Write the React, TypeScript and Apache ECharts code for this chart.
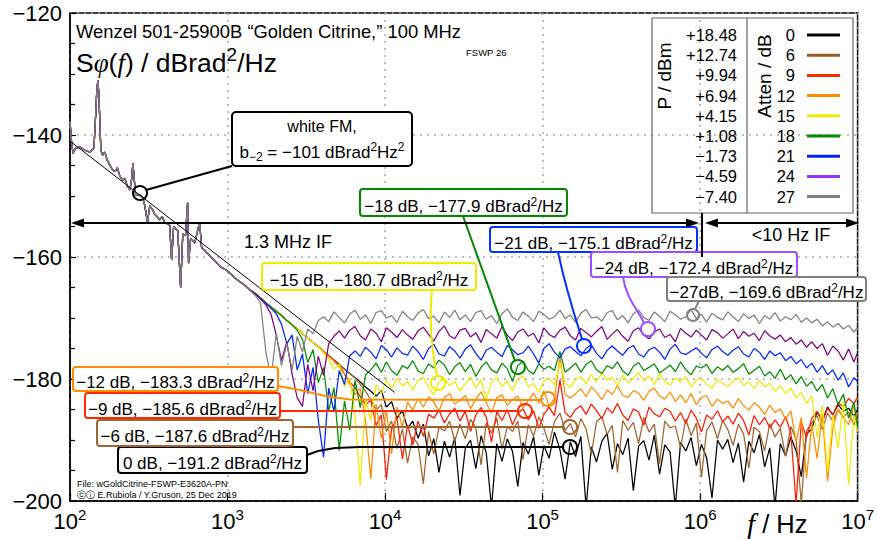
import { useEffect, useRef } from 'react';
import * as echarts from 'echarts';

const FONT = '"Liberation Sans", Arial, Helvetica, sans-serif';
const SERIF = '"Liberation Serif", "Times New Roman", serif';

// ---- common low-frequency part (all curves overlap) ----
const lowF = [100, 102, 104.5, 109, 116, 124.5, 134, 142, 146, 148, 150.4, 152.5, 155, 157, 161, 166.5, 172, 179, 186, 193, 200, 207, 215, 223, 231, 240, 245, 251, 256, 261, 277, 290, 298, 305, 310, 321, 335, 345, 358, 371, 385, 399, 429, 442, 455, 483, 504, 520, 541, 558, 566, 583, 619, 665, 685, 716, 770, 828, 891, 1000, 1110, 1190, 1280, 1370];
const lowV = [-137.7, -140.8, -143.0, -142.1, -142.0, -142.5, -142.8, -142.1, -135.9, -132.6, -131.0, -133.4, -138.4, -142.5, -143.3, -142.8, -144.1, -144.9, -145.7, -146.0, -145.4, -146.7, -147.4, -147.1, -148.4, -149.0, -147.7, -144.6, -147.4, -149.8, -149.8, -150.3, -151.5, -153.1, -154.4, -151.6, -152.3, -153.0, -153.4, -153.9, -153.4, -154.3, -154.8, -160.5, -155.0, -155.7, -165.0, -156.2, -156.5, -151.1, -161.0, -157.0, -157.7, -154.3, -158.5, -158.9, -159.8, -160.6, -161.5, -162.3, -163.4, -164.0, -164.6, -165.3];

// ---- frequency grid for the individual tails ----
const tailF = [1500, 1620, 1750, 1890, 2040, 2200, 2380, 2570, 2770, 2990, 3230, 3490, 3770, 4070, 4390, 4740, 5120, 5530, 5970, 6450, 6960, 7520, 8120, 8770, 9470, 10200, 11000, 11900, 12900, 13900,
  15000, 16200, 17500, 18900, 20400, 22000, 23800, 25700, 27700, 29900, 32300, 34900, 37700, 40700, 43900, 47400, 51200, 55300, 59700, 64500, 69600, 75200, 81200, 87700, 94700, 102000, 110000, 119000, 129000, 139000,
  150000, 162000, 175000, 189000, 204000, 220000, 238000, 257000, 277000, 299000, 323000, 349000, 377000, 407000, 439000, 474000, 512000, 553000, 597000, 645000, 696000, 752000, 812000, 877000, 947000, 1020000, 1100000, 1190000, 1290000, 1390000,
  1500000, 1620000, 1750000, 1890000, 2040000, 2200000, 2380000, 2570000, 2770000, 2990000, 3230000, 3490000, 3770000, 4070000, 4390000, 4740000, 5120000, 5530000, 5970000, 6450000, 6960000, 7520000, 8120000, 8770000, 9470000, 10000000];

const atten0 = [-166.0, -166.7, -167.5, -168.2, -168.9, -169.6, -170.4, -171.1, -171.8, -172.5, -173.3, -174.0, -174.7, -175.5, -176.2, -176.9, -177.6, -178.4, -179.1, -179.8, -180.5,
  -181.3, -182.0, -182.8, -181.9, -184.6, -183.7, -186.4, -185.2, -188.1, -186.9, -189.7, -187.4, -192.6, -189.8, -195.3,
  -190.2, -192.8, -189.6, -199.1, -191.4, -190.0, -194.7, -189.3, -192.1, -201.0, -190.6, -193.5, -189.8, -191.9, -197.6, -190.4, -192.3, -189.5, -195.8, -190.9, -193.0, -188.7, -191.6, -196.4,
  -190.3, -192.7, -189.4, -201.0, -191.1, -193.6, -190.2, -188.9, -194.8, -190.6, -192.4, -189.7, -198.3, -191.0, -190.1, -193.3, -189.2, -195.6, -190.8, -192.0, -201.0, -190.4, -191.8, -189.6, -194.2, -190.7, -192.9, -199.5, -190.0, -191.5,
  -189.9, -193.7, -190.5, -196.9, -190.2, -192.1, -189.1, -194.4, -191.3, -201.0, -190.6, -192.6, -189.5, -191.8, -196.0, -189.0, -188.2, -185.4, -186.8, -184.6, -185.9, -184.2, -185.3, -184.8, -186.1, -185.0];
const atten6 = [-166.0, -166.7, -167.5, -168.2, -168.9, -169.6, -170.4, -171.1, -171.8, -172.5, -173.3, -174.0, -174.7, -175.5, -176.2, -176.9, -177.6, -178.4, -179.1, -179.8,
  -180.9, -182.0, -183.4, -185.1, -184.2, -188.6, -186.9, -191.4, -188.2, -193.8, -189.5, -190.7, -197.2, -188.6, -192.3, -187.9,
  -188.5, -186.9, -190.2, -187.4, -189.8, -186.6, -188.0, -194.1, -187.2, -188.9, -186.4, -191.5, -187.8, -188.6, -186.9, -193.2, -187.5, -189.4, -186.2, -188.1, -190.7, -187.0, -185.6, -188.4,
  -187.3, -189.5, -186.5, -188.2, -192.4, -187.0, -186.2, -189.1, -187.6, -195.3, -186.8, -188.4, -187.1, -190.6, -186.3, -188.7, -187.4, -193.9, -186.9, -188.0, -187.7, -191.2, -186.6, -189.3, -187.2, -196.1, -188.5, -187.0, -189.8, -186.8,
  -188.3, -190.9, -187.4, -189.0, -194.6, -187.9, -188.6, -191.8, -187.3, -189.5, -188.1, -192.7, -187.8, -189.9, -200.4, -188.5, -187.2, -186.0, -188.3, -185.6, -186.9, -185.1, -186.3, -185.4, -187.6, -185.8];
const atten9 = [-166.0, -166.7, -167.5, -168.2, -168.9, -169.6, -170.4, -171.1, -171.8, -172.5, -173.3, -174.0, -174.7, -175.5, -176.2, -177.0, -177.8, -179.2, -180.5, -181.4, -182.9, -184.2, -183.5, -187.6, -185.9, -196.5, -188.2, -186.4, -193.1, -187.5, -190.8, -186.9, -189.4, -185.8,
  -186.4, -185.1, -187.2, -185.7, -184.8, -186.9, -185.3, -188.6, -185.9, -184.7, -186.2, -190.3, -185.4, -186.8, -185.0, -187.5, -185.6, -184.9, -186.7, -185.2, -188.1, -185.8, -184.6, -186.0, -180.2, -185.5,
  -186.3, -185.0, -184.4, -185.8, -184.1, -185.2, -186.5, -184.7, -185.6, -184.0, -185.9, -186.8, -184.9, -185.4, -187.6, -184.6, -185.7, -186.2, -184.8, -185.3, -186.9, -185.5, -187.3, -185.1, -186.4, -188.7, -185.9, -186.6, -185.2, -187.0,
  -186.1, -187.4, -185.6, -186.8, -189.2, -186.0, -187.5, -186.3, -188.0, -186.7, -187.9, -186.2, -188.8, -200.5, -187.1, -189.6, -186.4, -185.3, -187.0, -184.8, -185.9, -183.9, -184.6, -183.2, -184.0, -183.0];
const atten12 = [-166.0, -166.7, -167.5, -168.2, -168.9, -169.6, -170.4, -171.1, -171.8, -172.5, -173.3, -174.0, -174.7, -175.5, -176.3, -177.1, -178.0, -179.2, -180.8, -182.6, -181.5, -186.9, -196.4, -184.1, -189.7, -185.2, -192.3, -184.6, -187.9, -183.8, -185.1,
  -183.2, -184.6, -182.9, -183.8, -185.3, -183.0, -182.4, -184.1, -183.5, -182.7, -184.9, -183.3, -182.1, -183.9, -185.6, -183.1, -182.6, -184.3, -183.4, -182.8, -184.7, -183.6, -182.3, -183.9, -182.0, -184.4, -183.2, -176.3, -182.5,
  -183.1, -182.4, -181.6, -182.9, -181.3, -182.2, -183.4, -181.8, -182.5, -181.1, -182.7, -183.0, -181.9, -182.3, -183.5, -182.0, -181.5, -182.8, -183.3, -182.1, -183.7, -182.6, -183.9, -182.4, -184.2, -183.0, -182.7, -184.5, -183.3, -184.0,
  -183.6, -184.8, -183.2, -184.4, -185.1, -183.9, -184.6, -185.8, -184.3, -185.5, -184.9, -186.6, -185.2, -190.4, -186.3, -196.2, -187.4, -193.0, -185.8, -196.8, -188.1, -184.9, -186.3, -187.5, -184.4, -186.9];
const atten15 = [-166.0, -166.7, -167.5, -168.2, -168.9, -169.6, -170.4, -171.1, -171.8, -172.5, -173.3, -174.0, -174.8, -175.7, -176.8, -178.4, -177.6, -181.3, -179.8, -185.9, -197.5, -183.2, -186.8, -180.9, -182.4, -180.1,
  -181.6, -179.9, -181.2, -180.4,
  -181.8, -180.2, -179.7, -181.4, -182.6, -180.5, -179.9, -181.1, -180.3, -182.0, -180.8, -179.6, -181.5, -180.1, -183.4, -180.6, -179.8, -181.2, -180.4, -181.9, -180.0, -179.5, -181.3, -180.7, -182.2, -180.3, -179.9, -181.0, -177.4, -180.6,
  -181.4, -180.1, -179.6, -180.8, -179.3, -180.5, -179.0, -180.2, -179.7, -181.1, -179.4, -180.6, -179.9, -178.9, -180.3, -179.5, -180.9, -179.2, -180.4, -181.0, -179.8, -180.5, -179.6, -181.3, -180.2, -179.9, -180.8, -181.5, -180.1, -180.7,
  -181.2, -180.4, -179.8, -181.0, -180.5, -181.6, -180.2, -181.3, -180.7, -182.0, -181.1, -182.4, -181.5, -183.1, -182.2, -184.0, -182.8, -189.5, -184.3, -195.2, -186.0, -191.4, -183.7, -197.3, -185.9, -188.6];
const atten18 = [-166.0, -166.7, -167.5, -168.2, -168.9, -169.6, -170.4, -171.1, -172.0, -173.5, -177.3, -175.2, -180.6, -178.1, -185.2, -181.4, -191.7, -183.6, -188.4, -180.2, -184.7, -179.3, -178.5,
  -177.4, -178.9, -177.2, -178.6, -179.4, -177.8, -178.3,
  -177.0, -178.7, -179.1, -177.5, -178.2, -176.9, -177.7, -179.3, -178.0, -177.3, -178.8, -177.6, -179.6, -178.1, -177.2, -178.5, -179.0, -177.4, -178.3, -180.4, -177.8, -177.1, -178.6, -179.2, -177.5, -178.4, -177.9, -178.6, -175.5, -178.9,
  -178.2, -177.4, -178.9, -177.6, -177.0, -178.5, -179.1, -177.8, -178.3, -177.2, -178.7, -179.4, -177.9, -177.3, -178.6, -178.1, -177.5, -179.0, -178.4, -177.7, -178.8, -177.2, -178.5, -179.3, -177.9, -178.2, -177.6, -179.1, -178.0, -178.6,
  -177.8, -178.9, -178.3, -177.5, -179.2, -178.6, -177.9, -179.5, -178.8, -179.9, -178.4, -180.1, -179.3, -180.8, -179.6, -181.2, -180.4, -182.0, -180.9, -183.1, -181.6, -184.2, -182.5, -186.4, -183.8, -187.9];
const atten21 = [-166.0, -166.8, -167.6, -168.4, -169.3, -171.0, -174.2, -172.8, -178.5, -175.9, -182.4, -178.1, -186.7, -192.8, -181.5, -185.3, -178.6, -180.9, -176.2, -175.4,
  -176.3, -174.8, -175.6, -176.7, -174.5, -175.2, -176.4, -174.9, -175.8, -176.1,
  -174.6, -175.5, -176.8, -175.0, -174.3, -175.9, -176.2, -174.7, -175.4, -176.6, -175.1, -174.4, -175.8, -176.9, -175.3, -174.8, -175.6, -176.3, -174.5, -175.2, -176.0, -175.7, -174.6, -175.9, -177.4, -175.0, -174.2, -175.6, -176.5, -175.1,
  -174.7, -175.5, -176.2, -175.0, -174.4, -175.8, -176.7, -175.3, -174.6, -175.4, -176.1, -175.0, -174.5, -175.9, -176.4, -175.2, -174.8, -175.6, -176.8, -175.1, -174.3, -175.7, -176.0, -175.4, -174.9, -175.8, -176.5, -175.2, -174.6, -175.5,
  -176.1, -175.3, -174.7, -175.9, -176.4, -175.0, -175.6, -176.8, -175.4, -176.2, -175.7, -177.0, -176.3, -177.5, -176.8, -178.2, -177.4, -178.9, -177.8, -179.3, -178.5, -180.2, -179.0, -181.3, -179.8, -180.4];
const atten24 = [-166.1, -166.9, -167.8, -169.4, -172.8, -177.0, -173.9, -179.2, -183.1, -184.5, -177.6, -181.9, -176.3, -179.4, -174.2, -173.0, -172.1,
  -173.3, -172.0, -171.4, -172.9, -173.6, -171.8, -172.5, -173.9, -171.6, -172.3, -173.2, -171.9, -172.8,
  -173.5, -172.1, -171.5, -172.7, -173.8, -172.2, -171.3, -172.9, -173.4, -172.0, -171.7, -173.1, -172.4, -174.0, -171.9, -172.6, -173.3, -171.4, -172.8, -173.7, -172.3, -171.8, -173.0, -172.5, -174.1, -171.6, -172.7, -173.2, -172.0, -171.5,
  -172.9, -173.6, -171.7, -172.4, -173.1, -172.2, -171.4, -173.5, -172.6, -171.9, -173.0, -173.8, -172.1, -171.6, -172.8, -173.4, -172.3, -171.8, -173.2, -172.7, -173.9, -171.7, -172.5, -173.1, -172.0, -172.8, -173.6, -171.9, -172.4, -173.3,
  -172.6, -171.8, -173.4, -172.2, -173.0, -172.5, -173.7, -172.1, -172.9, -173.5, -172.8, -173.9, -173.2, -174.3, -173.6, -174.8, -173.9, -175.0, -174.2, -176.1, -174.6, -175.4, -176.9, -175.1, -177.2, -175.7];
const atten27 = [-166.3, -167.5, -175.5, -179.8, -172.5, -177.8, -174.2, -178.5, -173.0, -175.6, -171.8, -172.6, -170.4,
  -169.8, -170.6, -169.0, -169.9, -170.8, -169.4, -168.7, -170.2, -169.5, -170.9, -169.1, -168.8, -170.0, -169.6, -170.7, -168.9, -169.8,
  -170.4, -169.2, -168.6, -170.1, -169.7, -170.8, -169.0, -169.9, -168.7, -170.3, -169.5, -170.6, -169.1, -168.8, -170.2, -169.6, -170.9, -169.3, -168.5, -169.9, -170.4, -169.0, -169.7, -170.6, -168.9, -169.4, -170.2, -169.8, -168.7, -170.1,
  -169.5, -170.7, -169.2, -168.6, -170.0, -169.8, -170.5, -169.1, -168.8, -170.3, -169.6, -170.8, -169.3, -168.7, -169.9, -170.4, -169.0, -169.7, -170.6, -168.9, -169.5, -170.2, -169.8, -168.6, -170.1, -169.4, -170.7, -169.2, -169.9, -170.3,
  -169.0, -169.8, -170.6, -169.3, -170.1, -169.5, -170.9, -169.6, -170.2, -169.1, -170.5, -169.8, -170.3, -169.4, -170.7, -170.0, -170.8, -170.2, -171.3, -170.6, -171.5, -170.9, -171.8, -171.2, -172.3, -171.6];

const tails = [atten0, atten6, atten9, atten12, atten15, atten18, atten21, atten24, atten27];
const attenLabels = ['0', '6', '9', '12', '15', '18', '21', '24', '27'];
const powerLabels = ['+18.48', '+12.74', '+9.94', '+6.94', '+4.15', '+1.08', '\u22121.73', '\u22124.59', '\u22127.40'];
const curveColors = ['#000000', '#a0642d', '#ff1a00', '#ff8c00', '#f2ea00', '#009000', '#0026ff', '#800080', '#808080'];
const legendColors = ['#000000', '#9c5a1e', '#ff2a00', '#ff8c00', '#f2ea00', '#008a00', '#0022ff', '#9933ff', '#808080'];
const noteColors = ['#000000', '#a0642d', '#ff2a00', '#ff8c00', '#f2ea00', '#008a00', '#0033ff', '#a04cff', '#808080'];
const noteLevels = ['0 dB, \u2212191.2', '\u22126 dB, \u2212187.6', '\u22129 dB, \u2212185.6', '\u221212 dB, \u2212183.3', '\u221215 dB, \u2212180.7', '\u221218 dB, \u2212177.9', '\u221221 dB, \u2212175.1', '\u221224 dB, \u2212172.4', '\u221227dB, \u2212169.6'];
// white FM asymptote b-2 = -101 dBrad2Hz2
const fmLine = [[75, -138.5], [11500, -182.2]];

function rs(fs: number) {
  const lh = Math.round(fs * 1.3);
  return {
    n: { fontSize: fs, fontFamily: FONT, verticalAlign: 'bottom', lineHeight: lh },
    p: { fontSize: Math.round(fs * 0.7), fontFamily: FONT, verticalAlign: 'bottom', lineHeight: lh, padding: [0, 0, Math.round(fs * 0.44), 0] },
  };
}

function txt(x: number, y: number, text: string, o: any = {}) {
  const align = o.align || 'left';
  const va = o.va || 'middle';
  const fs = o.fs || 14;
  return {
    type: 'text', x, y, z: 60, rotation: o.rotation || 0,
    style: {
      text, fill: '#000', fontSize: fs, fontFamily: o.ff || FONT,
      font: `${fs}px ${o.ff || FONT}`,
      align, textAlign: align, verticalAlign: va, textVerticalAlign: va, rich: o.rich,
    },
  };
}

function buildGraphic() {
  const g: any[] = [];
  // titles
  g.push(txt(76, 31, 'Wenzel 501-25900B \u201cGolden Citrine,\u201d 100 MHz', { fs: 18.4 }));
  g.push(txt(76, 59, '{n|S}{i|\u03c6}{n|(}{i|f}{n|) / dBrad}{p|2}{n|/Hz}', {
    fs: 26.5, rich: {
      ...rs(26.5),
      i: { fontSize: 27, fontFamily: SERIF, fontStyle: 'italic', verticalAlign: 'bottom', lineHeight: 34 },
    },
  }));
  g.push(txt(466, 52, 'FSWP 26', { fs: 9.5 }));
  g.push(txt(77, 484, 'File: wGoldCitrine-FSWP-E3620A-PN', { fs: 9 }));
  g.push(txt(77, 495, '\u24d2\u24d8 E.Rubiola / Y.Gruson, 25 Dec 2019', { fs: 9 }));

  // legend
  g.push({ type: 'rect', z: 55, shape: { x: 652, y: 18, width: 201, height: 195 }, style: { fill: 'none', stroke: '#666', lineWidth: 1.2 } });
  g.push({ type: 'line', z: 55, shape: { x1: 747, y1: 18, x2: 747, y2: 213 }, style: { stroke: '#666', lineWidth: 1.2 } });
  g.push(txt(664, 76, 'P / dBm', { fs: 19, align: 'center', rotation: Math.PI / 2 }));
  g.push(txt(764, 76, 'Atten / dB', { fs: 19, align: 'center', rotation: Math.PI / 2 }));
  for (let i = 0; i < 9; i++) {
    const y = 35 + i * 20.2;
    g.push(txt(737, y, powerLabels[i], { fs: 16.5, align: 'right' }));
    g.push(txt(795, y, attenLabels[i], { fs: 16.5, align: 'right' }));
    g.push({ type: 'line', z: 60, shape: { x1: 807, y1: y, x2: 840, y2: y }, style: { stroke: legendColors[i], lineWidth: 3 } });
  }

  // IF arrows
  const A = '#000';
  g.push({ type: 'line', z: 60, shape: { x1: 78, y1: 223, x2: 692, y2: 223 }, style: { stroke: A, lineWidth: 2 } });
  g.push({ type: 'polygon', z: 60, shape: { points: [[71, 223], [84, 218.5], [84, 227.5]] }, style: { fill: A } });
  g.push({ type: 'polygon', z: 60, shape: { points: [[699, 223], [686, 218.5], [686, 227.5]] }, style: { fill: A } });
  g.push({ type: 'line', z: 60, shape: { x1: 702, y1: 213, x2: 702, y2: 257 }, style: { stroke: A, lineWidth: 2 } });
  g.push({ type: 'line', z: 60, shape: { x1: 712, y1: 223, x2: 852, y2: 223 }, style: { stroke: A, lineWidth: 2 } });
  g.push({ type: 'polygon', z: 60, shape: { points: [[705, 223], [718, 218.5], [718, 227.5]] }, style: { fill: A } });
  g.push({ type: 'polygon', z: 60, shape: { points: [[859, 223], [846, 218.5], [846, 227.5]] }, style: { fill: A } });
  g.push(txt(288, 242, '1.3 MHz IF', { fs: 18 , align: 'center' }));
  g.push(txt(791, 235, '<10 Hz IF', { fs: 18, align: 'center' }));

  // white FM note
  g.push({ type: 'line', z: 60, shape: { x1: 232, y1: 166, x2: 146, y2: 190 }, style: { stroke: A, lineWidth: 2 } });
  g.push({ type: 'circle', z: 60, shape: { cx: 140, cy: 193, r: 7 }, style: { fill: 'none', stroke: A, lineWidth: 2 } });
  g.push({ type: 'rect', z: 58, shape: { x: 232, y: 112, width: 180, height: 54, r: 4 }, style: { fill: '#fff', stroke: A, lineWidth: 2 } });
  g.push(txt(322, 126, 'white FM,', { fs: 16, align: 'center' }));
  g.push(txt(322, 151, '{n|b}{s|\u22122}{n| = \u2212101 dBrad}{p|2}{n|Hz}{p|2}', {
    fs: 17, align: 'center', rich: {
      n: { fontSize: 17, fontFamily: FONT, verticalAlign: 'bottom', lineHeight: 24, padding: [0, 0, 2, 0] },
      s: { fontSize: 12, fontFamily: FONT, verticalAlign: 'bottom', lineHeight: 24 },
      p: { fontSize: 12, fontFamily: FONT, verticalAlign: 'bottom', lineHeight: 24, padding: [0, 0, 10, 0] },
    },
  }));

  // level notes: box [x, y, w, h], circle [cx, cy]
  const boxes = [[118, 447, 189, 26], [97, 420, 196, 26], [85, 393, 195, 25], [73, 367, 205, 24], [262, 263, 214, 27], [360, 189, 207, 27], [490, 227, 207, 25], [591, 252, 206, 25], [667, 277, 199, 24]];
  const circles = [[570, 447], [570, 427], [525, 411], [548, 399], [438, 383], [518, 367], [584, 346], [648, 329], [693, 315]];
  const leaders: any[] = [
    { type: 'polyline', shape: { points: [[307, 455], [318, 451], [335, 448], [360, 447], [563, 447]] } },
    { type: 'line', shape: { x1: 293, y1: 427, x2: 563, y2: 427 } },
    { type: 'line', shape: { x1: 280, y1: 411, x2: 518, y2: 411 } },
    { type: 'polyline', shape: { points: [[278, 386], [300, 390], [325, 396], [350, 399.5], [541, 400]] } },
    { type: 'bezierCurve', shape: { x1: 432, y1: 290, cpx1: 428, cpy1: 330, cpx2: 434, cpy2: 360, x2: 437, y2: 376 } },
    { type: 'line', shape: { x1: 463, y1: 216, x2: 515, y2: 361 } },
    { type: 'bezierCurve', shape: { x1: 558, y1: 252, cpx1: 566, cpy1: 290, cpx2: 576, cpy2: 320, x2: 582, y2: 339 } },
    { type: 'bezierCurve', shape: { x1: 623, y1: 277, cpx1: 626, cpy1: 298, cpx2: 638, cpy2: 310, x2: 644, y2: 323 } },
    { type: 'line', shape: { x1: 699, y1: 301, x2: 695, y2: 309 } },
  ];
  for (let i = 0; i < 9; i++) {
    const c = noteColors[i];
    const [bx, by, bw, bh] = boxes[i];
    const [cx, cy] = circles[i];
    g.push({ ...leaders[i], z: 57, style: { stroke: c, lineWidth: 2, fill: 'none' } });
    g.push({ type: 'circle', z: 57, shape: { cx, cy, r: i === 8 ? 6 : 7 }, style: { fill: 'none', stroke: c, lineWidth: 2 } });
    g.push({ type: 'rect', z: 58, shape: { x: bx, y: by, width: bw, height: bh, r: 3 }, style: { fill: '#fff', stroke: c, lineWidth: 2 } });
    g.push(txt(bx + bw / 2, by + bh / 2 + 1, `{n|${noteLevels[i]} dBrad}{p|2}{n|/Hz}`, { fs: 17, align: 'center', rich: rs(17) }));
  }

  // x axis name
  g.push(txt(747, 522, '{i|f}{n| / Hz}', {
    fs: 25, rich: {
      i: { fontSize: 29, fontFamily: SERIF, fontStyle: 'italic', verticalAlign: 'bottom', lineHeight: 32 },
      n: { fontSize: 25.5, fontFamily: FONT, verticalAlign: 'bottom', lineHeight: 32, padding: [0, 0, 1, 0] },
    },
  }));
  return g;
}

function buildOption() {
  const series: any[] = tails.map((vals, i) => ({
    type: 'line',
    name: attenLabels[i],
    symbol: 'none',
    silent: true,
    data: lowF.map((f, j) => [f, lowV[j]]).concat(tailF.map((f, j) => [f, vals[j]])),
    lineStyle: { color: curveColors[i], width: 1.25 },
    z: 2,
  }));
  series.push({
    type: 'line', name: 'white FM', symbol: 'none', silent: true, clip: false, z: 5,
    data: fmLine, lineStyle: { color: '#000', width: 1 },
  });
  const split = { show: true, lineStyle: { color: '#a8a8a8', width: 1.5, type: [2, 5] } };
  return {
    animation: false,
    backgroundColor: '#fff',
    grid: { left: 70, right: 17, top: 13, bottom: 38, show: true, borderColor: '#000', borderWidth: 1.5, backgroundColor: 'transparent' },
    xAxis: {
      type: 'log', logBase: 10, min: 100, max: 10000000,
      axisLine: { show: true, lineStyle: { color: '#000', width: 1.5 } },
      axisTick: { show: true, inside: true, length: 8, lineStyle: { color: '#000', width: 1.2 } },
      splitLine: split,
      axisLabel: {
        margin: 3,
        formatter: (v: number) => `{a|10}{b|${Math.round(Math.log10(v))}}`,
        rich: {
          a: { fontSize: 22, fontFamily: FONT, color: '#000', verticalAlign: 'bottom', lineHeight: 28 },
          b: { fontSize: 15, fontFamily: FONT, color: '#000', verticalAlign: 'bottom', lineHeight: 28, padding: [0, 0, 10, 0] },
        },
      },
    },
    yAxis: {
      type: 'value', min: -200, max: -120, interval: 20,
      axisLine: { show: true, lineStyle: { color: '#000', width: 1.5 } },
      axisTick: { show: true, inside: true, length: 6, lineStyle: { color: '#000', width: 1.2 } },
      minorTick: { show: true, splitNumber: 4, length: 5, lineStyle: { color: '#000', width: 1.2 } },
      splitLine: split,
      axisLabel: {
        margin: 8, fontSize: 22, fontFamily: FONT, color: '#000',
        formatter: (v: number) => (v < 0 ? '\u2212' + Math.abs(v) : String(v)),
      },
    },
    series,
    graphic: { elements: buildGraphic() },
  };
}

export default function App() {
  const ref = useRef<HTMLDivElement>(null);
  useEffect(() => {
    if (!ref.current) return;
    const chart = echarts.init(ref.current, null, { renderer: 'svg' });
    chart.setOption(buildOption() as any);
    return () => chart.dispose();
  }, []);
  return <div ref={ref} style={{ position: 'fixed', left: 0, top: 0, width: 877, height: 539, background: '#fff' }} />;
}
